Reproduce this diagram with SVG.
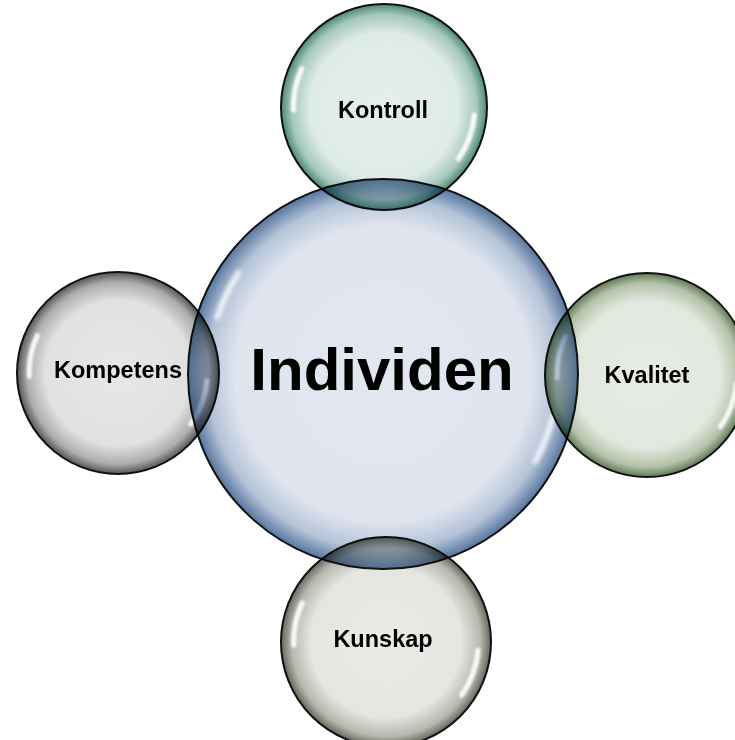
<svg xmlns="http://www.w3.org/2000/svg" width="735" height="740" viewBox="0 0 735 740">
  <style>
    .ball { stroke: #111; stroke-width: 2; vector-effect: non-scaling-stroke; }
    .sat { mix-blend-mode: multiply; }
    .hl { fill: none; stroke: #ffffff; stroke-width: 5; stroke-linecap: round; opacity: 0.9; filter: url(#soft); }
    .lbl { font-family: "Liberation Sans", Arial, sans-serif; font-weight: bold; font-size: 23.5px; fill: #000; text-anchor: middle; }
    .big { font-size: 60px; }
  </style>
  <defs>
    <filter id="soft" filterUnits="userSpaceOnUse" x="-150" y="-150" width="300" height="300">
      <feGaussianBlur stdDeviation="1.2"/>
    </filter>
    <radialGradient id="gBlue">
      <stop offset="0" stop-color="#e3e7f0"/>
      <stop offset="0.76" stop-color="#dfe4ee"/>
      <stop offset="0.9" stop-color="#b4c3d8"/>
      <stop offset="1" stop-color="#56769f"/>
    </radialGradient>
    <radialGradient id="gTeal">
      <stop offset="0" stop-color="#e4efeb"/>
      <stop offset="0.72" stop-color="#deebe6"/>
      <stop offset="0.9" stop-color="#a5c7bc"/>
      <stop offset="1" stop-color="#4a8774"/>
    </radialGradient>
    <radialGradient id="gGray">
      <stop offset="0" stop-color="#e7e7e7"/>
      <stop offset="0.72" stop-color="#e1e1e1"/>
      <stop offset="0.9" stop-color="#adadad"/>
      <stop offset="1" stop-color="#555555"/>
    </radialGradient>
    <radialGradient id="gGreen">
      <stop offset="0" stop-color="#e8ede5"/>
      <stop offset="0.72" stop-color="#e2e8de"/>
      <stop offset="0.9" stop-color="#b3c2a9"/>
      <stop offset="1" stop-color="#5f7a55"/>
    </radialGradient>
    <radialGradient id="gOlive">
      <stop offset="0" stop-color="#ebebe8"/>
      <stop offset="0.72" stop-color="#e5e5e1"/>
      <stop offset="0.9" stop-color="#b7b7ae"/>
      <stop offset="1" stop-color="#66665b"/>
    </radialGradient>
  </defs>

  <g id="connectors"/>

  <g id="node-individen">
    <g transform="translate(383 374) scale(1.95)">
      <circle class="ball" r="100" fill="url(#gBlue)"/>
      <path class="hl" d="M -74 -52 A 90 90 0 0 0 -85 -29" style="stroke-width:2.5"/>
      <path class="hl" d="M 87 22 A 90 90 0 0 1 78 45" style="stroke-width:2.5"/>
    </g>
    <text class="lbl big" x="382" y="390">Individen</text>
  </g>

  <g id="node-kontroll">
    <g class="sat" transform="translate(384 107) scale(1.03)">
      <circle class="ball" r="100" fill="url(#gTeal)"/>
      <path class="hl" d="M -79.8 -37.2 A 88 88 0 0 0 -87.9 3.1"/>
      <path class="hl" d="M 87.7 7.7 A 88 88 0 0 1 72.1 50.5"/>
    </g>
    <text class="lbl" x="383" y="118">Kontroll</text>
  </g>

  <g id="node-kompetens">
    <g class="sat" transform="translate(118 373) scale(1.01)">
      <circle class="ball" r="100" fill="url(#gGray)"/>
      <path class="hl" d="M -79.8 -37.2 A 88 88 0 0 0 -87.9 3.1"/>
      <path class="hl" d="M 87.7 7.7 A 88 88 0 0 1 72.1 50.5"/>
    </g>
    <text class="lbl" x="118" y="378">Kompetens</text>
  </g>

  <g id="node-kvalitet">
    <g class="sat" transform="translate(647 375) scale(1.02)">
      <circle class="ball" r="100" fill="url(#gGreen)"/>
      <path class="hl" d="M -79.8 -37.2 A 88 88 0 0 0 -87.9 3.1"/>
      <path class="hl" d="M 87.7 7.7 A 88 88 0 0 1 72.1 50.5"/>
    </g>
    <text class="lbl" x="647" y="383">Kvalitet</text>
  </g>

  <g id="node-kunskap">
    <g class="sat" transform="translate(386 642) scale(1.05)">
      <circle class="ball" r="100" fill="url(#gOlive)"/>
      <path class="hl" d="M -79.8 -37.2 A 88 88 0 0 0 -87.9 3.1"/>
      <path class="hl" d="M 87.7 7.7 A 88 88 0 0 1 72.1 50.5"/>
    </g>
    <text class="lbl" x="383" y="647">Kunskap</text>
  </g>
</svg>
